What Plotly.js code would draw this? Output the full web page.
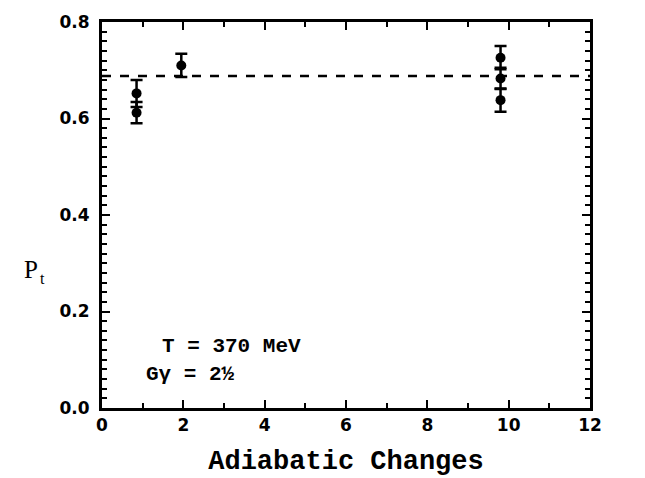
<!DOCTYPE html>
<html>
<head>
<meta charset="utf-8">
<script src="https://cdn.plot.ly/plotly-3.0.1.min.js"></script>
<style>
html,body{margin:0;padding:0;background:#fff;overflow:hidden;width:645px;height:478px;}
#wrap{width:323px;height:239px;transform:scale(2);transform-origin:0 0;}
#chart{width:323px;height:239px;}
</style>
</head>
<body>
<div id="wrap"><div id="chart"></div></div>
<script>
// Data
const groupX = [0.85, 0.85, 1.95, 9.8, 9.8, 9.8];
const groupY = [0.652, 0.612, 0.710, 0.726, 0.683, 0.638];
const groupErr = [0.028, 0.022, 0.024, 0.024, 0.022, 0.024];
const refX = [0, 12];
const refY = [0.688, 0.688];
const annoLine1 = "T = 370 MeV";
const annoLine2 = "Gγ = 2½";

const FONT = "Liberation Mono, DejaVu Sans Mono, monospace";
const TICKFONT = "DejaVu Sans, Liberation Sans, sans-serif";

const traces = [
  {x: refX, y: refY, mode: "lines", type: "scatter", line: {color: "#000", width: 1.25, dash: "4.5px,4.5px"}, hoverinfo: "skip", showlegend: false},
  {x: groupX, y: groupY, mode: "markers", type: "scatter", marker: {color: "#000", size: 5},
   error_y: {type: "data", array: groupErr, visible: true, color: "#000", thickness: 1.25, width: 3}, showlegend: false}
];
const axisCommon = {showgrid: false, zeroline: false, showline: true, linecolor: "#000", linewidth: 1.5, mirror: "allticks", ticks: "inside", tickcolor: "#000", tickwidth: 1};
const layout = {
  width: 323, height: 239, margin: {l: 50.5, r: 27.5, t: 10.5, b: 35}, showlegend: false,
  xaxis: Object.assign({}, axisCommon, {range: [0, 12], tickmode: "linear", tick0: 0, dtick: 2, ticklen: 4,
    minor: {tickmode: "linear", dtick: 1, ticklen: 2.5, ticks: "inside", tickcolor: "#000", tickwidth: 1, showgrid: false},
    tickfont: {family: TICKFONT, size: 8.5, color: "#000", weight: "bold"},
    title: {text: "Adiabatic Changes", font: {family: FONT, size: 13.5, color: "#000", weight: "bold"}, standoff: 8}}),
  yaxis: Object.assign({}, axisCommon, {range: [0, 0.8], tickmode: "linear", tick0: 0, dtick: 0.2, tickformat: ".1f", ticklen: 4,
    minor: {tickmode: "linear", dtick: 0.02, ticklen: 2.5, ticks: "inside", tickcolor: "#000", tickwidth: 1, showgrid: false},
    tickfont: {family: TICKFONT, size: 8.5, color: "#000", weight: "bold"}, ticklabelstandoff: 3}),
  annotations: [
    {xref: "paper", yref: "paper", x: -0.145, y: 0.36, xanchor: "center", yanchor: "middle",
     showarrow: false, text: "P", font: {family: "Liberation Serif, serif", size: 12.5, color: "#000"}},
    {xref: "paper", yref: "paper", x: -0.145, y: 0.36, xanchor: "center", yanchor: "middle", xshift: 5.5, yshift: -4.5,
     showarrow: false, text: "t", font: {family: "Liberation Serif, serif", size: 8, color: "#000"}},
    {xref: "x", yref: "y", x: 1.4, y: 0.13, xanchor: "left", yanchor: "middle",
     showarrow: false, text: annoLine1, font: {family: FONT, size: 10.5, color: "#000", weight: "bold"}},
    {xref: "x", yref: "y", x: 1.0, y: 0.072, xanchor: "left", yanchor: "middle",
     showarrow: false, text: annoLine2, font: {family: FONT, size: 10.5, color: "#000", weight: "bold"}}
  ]
};
Plotly.newPlot("chart", traces, layout, {displayModeBar: false, staticPlot: true});
</script>
</body>
</html>
